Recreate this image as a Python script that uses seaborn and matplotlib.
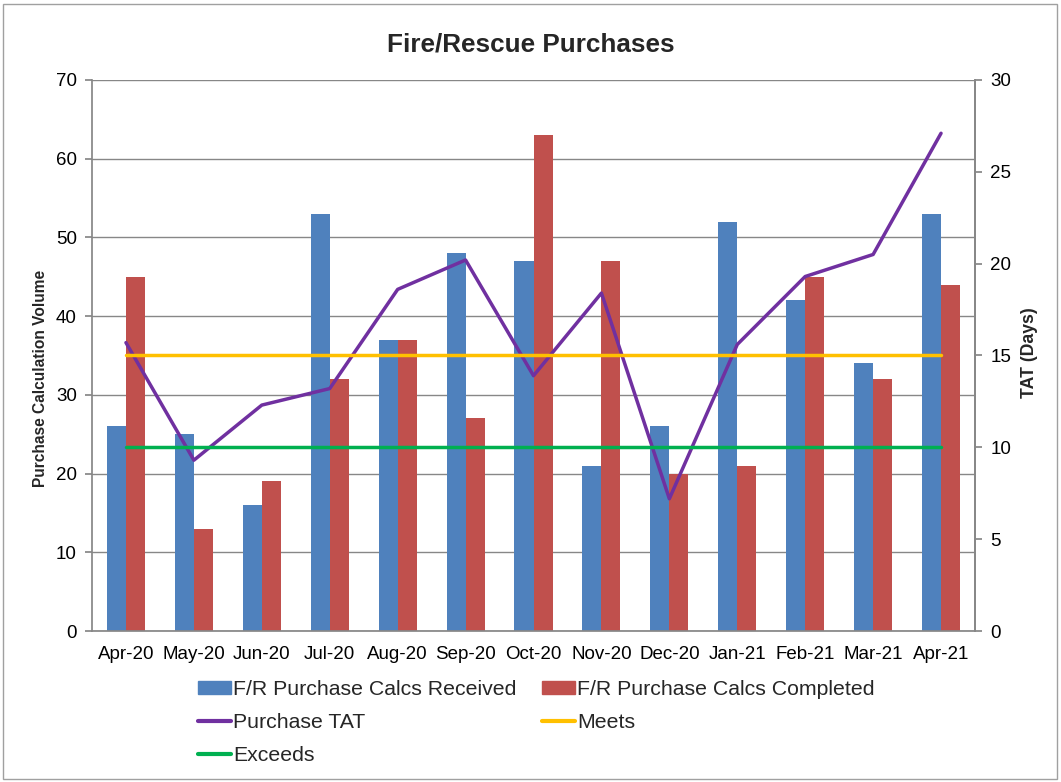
import numpy as np
import pandas as pd
import matplotlib
matplotlib.use("Agg")
import matplotlib.pyplot as plt
import seaborn as sns
from matplotlib.patches import Rectangle
from matplotlib.lines import Line2D
from matplotlib.patches import Patch

months = ["Apr-20", "May-20", "Jun-20", "Jul-20", "Aug-20", "Sep-20", "Oct-20",
          "Nov-20", "Dec-20", "Jan-21", "Feb-21", "Mar-21", "Apr-21"]
received = [26, 25, 16, 53, 37, 48, 47, 21, 26, 52, 42, 34, 53]
completed = [45, 13, 19, 32, 37, 27, 63, 47, 20, 21, 45, 32, 44]
tat = [15.7, 9.3, 12.3, 13.2, 18.6, 20.2, 13.9, 18.4, 7.2, 15.6, 19.3, 20.5, 27.1]
meets = [15] * len(months)
exceeds = [10] * len(months)

s_rec = "F/R Purchase Calcs Received"
s_com = "F/R Purchase Calcs Completed"

df = pd.DataFrame({
    "Month": months * 2,
    "Value": received + completed,
    "Series": [s_rec] * len(months) + [s_com] * len(months),
})

sns.set_theme(style="white")
plt.rcParams["font.family"] = ["Liberation Sans", "DejaVu Sans"]

fig = plt.figure(figsize=(10.61, 7.82), dpi=100)
ax = fig.add_axes([92 / 1061, 1 - 631 / 782, (975 - 92) / 1061, (631 - 80) / 782])

c_blue, c_red = "#4F81BD", "#C0504D"
c_purple, c_yellow, c_green = "#7030A0", "#FFC000", "#00B050"
c_axis = "#878787"

sns.barplot(data=df, x="Month", y="Value", hue="Series", order=months,
            hue_order=[s_rec, s_com], palette=[c_blue, c_red],
            width=0.56, saturation=1, ax=ax, legend=False, zorder=2)
for p in ax.patches:
    p.set_edgecolor("none")

ax.set_ylim(0, 70)
ax.set_xlim(-0.5, len(months) - 0.5)
ax.set_yticks(range(0, 71, 10))
ax.yaxis.grid(True, color=c_axis, linewidth=1.0, zorder=0)
ax.set_axisbelow(True)
ax.set_xlabel("")
ax.set_ylabel("Purchase Calculation Volume", fontsize=11.2, fontweight="bold")
ax.yaxis.set_label_coords(-0.050, 0.459)
ax.tick_params(axis="both", labelsize=13.5, colors="black")
ax.set_xticks(range(len(months)))
ax.set_xticklabels(months)
ax.set_xticks(np.arange(-0.5, len(months), 1), minor=True)
ax.tick_params(axis="x", which="major", length=0, pad=11)
ax.tick_params(axis="x", which="minor", length=5, color=c_axis, direction="out")
ax.tick_params(axis="y", length=5, color=c_axis, direction="out", left=True, pad=6)
for side in ["left", "bottom", "right"]:
    ax.spines[side].set_color(c_axis)
ax.spines["top"].set_visible(False)

ax2 = ax.twinx()
x = np.arange(len(months))
sns.lineplot(x=x, y=tat, color=c_purple, linewidth=2.5, ax=ax2)
sns.lineplot(x=x, y=meets, color=c_yellow, linewidth=2.5, ax=ax2)
sns.lineplot(x=x, y=exceeds, color=c_green, linewidth=2.5, ax=ax2)
ax2.set_ylim(0, 30)
ax2.set_yticks(range(0, 31, 5))
ax2.set_ylabel("TAT (Days)", fontsize=12.7, fontweight="bold")
ax2.yaxis.set_label_coords(1.052, 0.505)
ax2.tick_params(axis="y", labelsize=13.5, length=5, color=c_axis,
                direction="out", right=True, pad=6, colors="black")
ax2.spines["top"].set_visible(False)
ax2.spines["right"].set_color(c_axis)
ax2.spines["left"].set_visible(False)
ax2.spines["bottom"].set_visible(False)
ax2.grid(False)

fig.text(0.5, 1 - 45 / 782, "Fire/Rescue Purchases", ha="center", va="center",
         fontsize=18.8, fontweight="bold")

h_rec = Patch(color=c_blue)
h_com = Patch(color=c_red)
h_tat = Line2D([], [], color=c_purple, lw=3)
h_meet = Line2D([], [], color=c_yellow, lw=3)
h_exc = Line2D([], [], color=c_green, lw=3)
handles = [h_rec, h_tat, h_exc, h_com, h_meet]
labels = [s_rec, "Purchase TAT", "Exceeds", s_com, "Meets"]
fig.legend(handles, labels, ncol=2, loc="upper left",
           bbox_to_anchor=(198 / 1061, 1 - 680 / 782), frameon=False,
           fontsize=15.3, handlelength=1.55, handleheight=0.55, handletextpad=0.1,
           columnspacing=1.2, labelspacing=0.66, borderaxespad=0, borderpad=0)

fig.patches.append(Rectangle((3 / 1061, 3 / 782), 1054 / 1061, 775 / 782,
                             transform=fig.transFigure, fill=False,
                             edgecolor="#A0A0A0", linewidth=1))

fig.savefig("out.png", dpi=100)
